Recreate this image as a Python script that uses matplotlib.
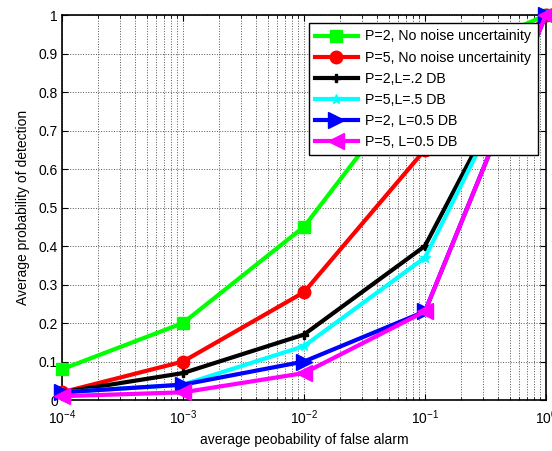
import numpy as np
import matplotlib
matplotlib.use("Agg")
import matplotlib.pyplot as plt
from matplotlib.ticker import LogLocator, NullFormatter, MultipleLocator, FuncFormatter

plt.rcParams["font.family"] = ["Liberation Sans", "DejaVu Sans"]
plt.rcParams["mathtext.default"] = "regular"

# data
pfa = [1e-4, 1e-3, 1e-2, 1e-1, 1.0]
pd_p2_clean = [0.08, 0.20, 0.45, 0.86, 1.0]
pd_p5_clean = [0.02, 0.10, 0.28, 0.65, 1.0]
pd_p2_l02 = [0.02, 0.07, 0.17, 0.40, 1.0]
pd_p5_l05 = [0.02, 0.04, 0.14, 0.37, 1.0]
pd_p2_l05 = [0.02, 0.04, 0.10, 0.23, 1.0]
pd_p5_l05b = [0.01, 0.02, 0.07, 0.23, 1.0]

labels = ["P=2, No noise uncertainity", "P=5, No noise uncertainity",
          "P=2,L=.2 DB", "P=5,L=.5 DB", "P=2, L=0.5 DB", "P=5, L=0.5 DB"]

fig = plt.figure(figsize=(5.52, 4.51), dpi=100)
ax = fig.add_axes([0.1123, 0.113, 0.8767, 0.8537])

styles = [
    (pd_p2_clean, "#00ff00", "s", 9),
    (pd_p5_clean, "#ff0000", "o", 9),
    (pd_p2_l02, "#000000", "P", 6),
    (pd_p5_l05, "#00ffff", "*", 7),
    (pd_p2_l05, "#0000ff", ">", 11),
    (pd_p5_l05b, "#ff00ff", "<", 12),
]
for (ys, c, m, ms), lab in zip(styles, labels):
    ax.semilogx(pfa, ys, color=c, marker=m, markersize=ms, lw=3, label=lab,
                clip_on=False, zorder=3)

ax.set_xlim(1e-4, 1)
ax.set_ylim(0, 1)
ax.yaxis.set_major_locator(MultipleLocator(0.1))
ax.yaxis.set_major_formatter(FuncFormatter(lambda v, p: "%g" % round(v, 1)))
ax.xaxis.set_major_locator(LogLocator(base=10, numticks=10))
ax.xaxis.set_major_formatter(FuncFormatter(lambda v, p: r"$10^{%d}$" % round(np.log10(v))))
ax.xaxis.set_minor_locator(LogLocator(base=10, subs=np.arange(2, 10), numticks=10))
ax.xaxis.set_minor_formatter(NullFormatter())

ax.grid(True, which="major", axis="both", color="#555555", ls=":", lw=0.7)
ax.grid(True, which="minor", axis="x", color="#555555", ls=":", lw=0.7)
ax.tick_params(which="both", direction="in", top=True, right=True, labelsize=10)
ax.tick_params(which="major", length=4)
ax.tick_params(which="minor", length=2)
ax.tick_params(axis="x", pad=6)
ax.tick_params(axis="y", pad=3)
for s in ax.spines.values():
    s.set_linewidth(1.2)

ax.set_xlabel("average peobability of false alarm", fontsize=10, labelpad=4)
ax.set_ylabel("Average probability of detection", fontsize=10, labelpad=6)

leg = ax.legend(loc="upper right", bbox_to_anchor=(0.983, 0.979), fontsize=10.2,
                handlelength=3.0, fancybox=False, framealpha=1, edgecolor="black",
                borderpad=0.45, labelspacing=0.5, handletextpad=0.55, borderaxespad=0)
leg.get_frame().set_linewidth(1.0)

fig.savefig("out.png", dpi=100)
